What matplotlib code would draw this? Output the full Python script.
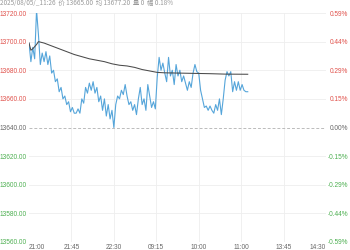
import numpy as np
import matplotlib
matplotlib.use('Agg')
import matplotlib.pyplot as plt

# === data (index = trading minutes since 21:00) ===
base_price = 13640.0
price_idx = list(range(0, 233, 2))
price = [
    13699, 13686, 13696, 13688, 13722, 13705, 13684, 13692, 13686, 13693,
    13684, 13690, 13678, 13680, 13672, 13674, 13665, 13668, 13660, 13662,
    13656, 13658, 13651, 13654, 13650, 13650, 13653, 13650, 13660, 13657,
    13668, 13664, 13671, 13666, 13672, 13664, 13668, 13658, 13662, 13652,
    13660, 13648, 13656, 13646, 13652, 13640, 13656, 13662, 13660, 13666,
    13663, 13670, 13662, 13656, 13658, 13652, 13656, 13649, 13660, 13668,
    13656, 13660, 13652, 13670, 13662, 13654, 13658, 13653, 13675, 13689,
    13680, 13685, 13678, 13672, 13689, 13676, 13680, 13670, 13684, 13676,
    13680, 13672, 13676, 13671, 13666, 13672, 13668, 13678, 13684, 13679,
    13678, 13666, 13660, 13654, 13655, 13652, 13655, 13652, 13650, 13656,
    13652, 13660, 13649, 13660, 13673, 13679, 13676, 13679, 13665, 13672,
    13666, 13672, 13666, 13670, 13666, 13665, 13665,
]
avg_idx = [0, 2, 4, 8, 10, 16, 24, 32, 40, 48, 56, 64, 72, 80, 88, 96,
           104, 112, 120, 128, 136, 144, 160, 176, 192, 208, 232]
avg_price = [13699, 13694, 13695, 13698, 13700, 13699, 13697, 13695, 13693,
             13691, 13689.5, 13688, 13687, 13686, 13684.5, 13683.5, 13683,
             13682, 13680.5, 13679.5, 13678.5, 13678.2, 13678, 13677.8,
             13677.6, 13677.3, 13677.2]

tick_idx = [0, 45, 90, 135, 180, 225, 270, 315]
tick_labels = ['21:00', '21:45', '22:30', '09:15', '10:00', '11:00', '13:45', '14:30']
y_levels = [13560, 13580, 13600, 13620, 13640, 13660, 13680, 13700, 13720]
header = '2025/08/05/_11:26  价 13665.00  均 13677.20  量 0  幅 0.18%'

RED = '#e0504a'
GREEN = '#4caf50'
GREY = '#666666'

plt.rcParams['font.family'] = ['Liberation Sans', 'DejaVu Sans']

fig = plt.figure(figsize=(3.5, 2.5), dpi=100)
ax = fig.add_axes([29 / 350, 8 / 250, 297 / 350, 229 / 250])

# grid
for y in y_levels:
    if y == base_price:
        ax.axhline(y, color='#bbbbbb', lw=0.7, ls=(0, (3, 2)), zorder=1)
    else:
        ax.axhline(y, color='#eeeeee', lw=0.6, zorder=0)
for t in tick_idx[1:-1]:
    ax.axvline(t, color='#eeeeee', lw=0.6, zorder=0)

ax.plot(price_idx, price, color='#55a5da', lw=0.8, zorder=3)
ax.plot(avg_idx, avg_price, color='#4a4a4a', lw=0.75, zorder=4)

ax.set_xlim(0, 315)
ax.set_ylim(13560, 13720)
for s in ax.spines.values():
    s.set_visible(False)

ax.set_xticks(tick_idx)
ax.set_xticklabels(tick_labels)
ax.tick_params(axis='x', length=0, pad=1.5, labelsize=4.7, labelcolor='#666666')
ax.get_xticklabels()[0].set_horizontalalignment('left')
ax.get_xticklabels()[-1].set_horizontalalignment('right')

ax.set_yticks(y_levels)
ax.set_yticklabels([f'{v:.2f}' for v in y_levels])
ax.tick_params(axis='y', length=0, pad=1.5, labelsize=4.7)

def level_color(v):
    if v > base_price:
        return RED
    if v < base_price:
        return GREEN
    return GREY

for lab, v in zip(ax.get_yticklabels(), y_levels):
    lab.set_color(level_color(v))

# right axis: percent change from the base price
ax2 = ax.twinx()
ax2.set_ylim(ax.get_ylim())
ax2.set_yticks(y_levels)
ax2.set_yticklabels([f'{(v - base_price) / base_price * 100:.2f}%' for v in y_levels])
ax2.tick_params(axis='y', length=0, pad=16, labelsize=4.7)
for lab, v in zip(ax2.get_yticklabels(), y_levels):
    lab.set_color(level_color(v))
    lab.set_horizontalalignment('right')
for s in ax2.spines.values():
    s.set_visible(False)

fig.text(0.0, 1.0 - 3 / 250, header, fontsize=4.6, color='#999999', ha='left',
         va='center', family=['Noto Sans CJK SC', 'DejaVu Sans'])

fig.savefig('out.png', dpi=100)
